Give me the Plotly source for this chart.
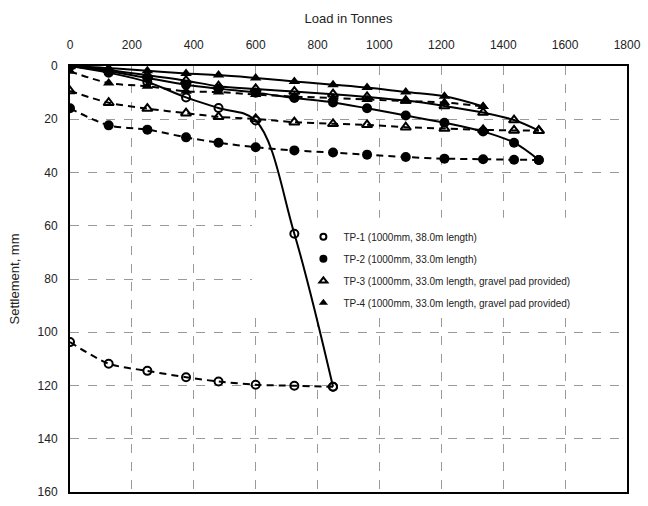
import plotly.graph_objects as go

# Load values (tonnes) at each test stage
loads = [0, 125, 250, 375, 480, 600, 725, 850, 960, 1085, 1210, 1335, 1435, 1515]

# TP-1 (1000mm, 38.0m length) - loaded to 850 t
tp1_load = loads[:8]
tp1_loading = [0, 2.5, 6.0, 11.8, 15.8, 20.5, 63.0, 120.5]
tp1_unloading = [103.7, 111.8, 114.5, 116.9, 118.5, 119.7, 120.1, 120.5]

# TP-2 (1000mm, 33.0m length) - loaded to 1515 t
tp2_load = loads
tp2_loading = [0, 2.0, 4.5, 7.0, 8.5, 10.0, 12.0, 13.7, 15.9, 18.6, 21.3, 24.6, 28.8, 35.3]
tp2_unloading = [15.9, 22.3, 23.9, 26.8, 28.8, 30.5, 31.7, 32.5, 33.3, 34.2, 34.8, 35.0, 35.2, 35.3]

# TP-3 (1000mm, 33.0m length, gravel pad provided) - loaded to 1515 t
tp3_load = loads
tp3_loading = [0, 1.5, 3.5, 5.5, 7.6, 8.6, 9.6, 10.6, 11.6, 13.0, 15.0, 17.5, 20.3, 24.3]
tp3_unloading = [9.4, 13.8, 16.0, 17.7, 19.1, 19.9, 21.1, 21.7, 22.1, 23.0, 23.5, 24.0, 24.2, 24.3]

# TP-4 (1000mm, 33.0m length, gravel pad provided) - loaded to 1335 t
tp4_load = loads[:12]
tp4_loading = [0, 0.8, 1.8, 2.8, 3.4, 4.5, 5.8, 7.0, 8.1, 9.8, 11.4, 15.2]
tp4_unloading = [2.0, 6.4, 7.6, 9.5, 9.8, 10.7, 11.5, 12.0, 12.6, 13.2, 13.7, 15.2]

names = [
    "TP-1 (1000mm, 38.0m length)",
    "TP-2 (1000mm, 33.0m length)",
    "TP-3 (1000mm, 33.0m length, gravel pad provided)",
    "TP-4 (1000mm, 33.0m length, gravel pad provided)",
]

series = [
    (tp1_load, tp1_loading, tp1_unloading, dict(symbol="circle-open", size=8, color="black", line=dict(width=2, color="black"))),
    (tp2_load, tp2_loading, tp2_unloading, dict(symbol="circle", size=10, color="black")),
    (tp3_load, tp3_loading, tp3_unloading, dict(symbol="triangle-up-open", size=9, color="black", line=dict(width=2, color="black"))),
    (tp4_load, tp4_loading, tp4_unloading, dict(symbol="triangle-up", size=10, color="black")),
]

fig = go.Figure()

for (xs, ld, ul, mk) in series:
    fig.add_trace(go.Scatter(
        x=xs, y=ul, mode="lines+markers", showlegend=False,
        line=dict(color="black", width=2, dash="7px,5px", shape="spline", smoothing=0.8),
        marker=mk, hoverinfo="skip"))
for (xs, ld, ul, mk) in series:
    fig.add_trace(go.Scatter(
        x=xs, y=ld, mode="lines+markers", showlegend=False,
        line=dict(color="black", width=2, shape="spline", smoothing=1.0),
        marker=mk, hoverinfo="skip"))

for i, ((xs, ld, ul, mk), nm) in enumerate(zip(series, names)):
    m = dict(symbol=mk["symbol"], size=mk["size"] - 2, color="black",
             line=dict(width=2 if "open" in mk["symbol"] else 0, color="black"))
    fig.add_trace(go.Scatter(x=[None], y=[None], mode="markers", name=nm,
                             marker=m, legendgroup=f"g{i}", showlegend=True))

# white panel behind legend (hides gridlines but not the curves)
fig.add_shape(type="rect", xref="x", yref="y", x0=588, x1=1800, y0=57, y1=92.5,
              fillcolor="white", line=dict(width=0), layer="between")

grid = dict(showgrid=True, gridcolor="#9a9a9a", gridwidth=1, griddash="dash")
fig.update_xaxes(
    range=[0, 1800], side="top", tickmode="array",
    tickvals=[0, 200, 400, 600, 800, 1000, 1200, 1400, 1600, 1800],
    showline=True, linecolor="black", linewidth=2, mirror=True,
    zeroline=False, ticks="", ticklabelstandoff=10,
    tickfont=dict(size=12, color="#222"),
    title=dict(text="Load in Tonnes", font=dict(size=13, color="#222"), standoff=12),
    **grid)
fig.update_yaxes(
    range=[160, 0], tickmode="array", tickvals=[0, 20, 40, 60, 80, 100, 120, 140, 160],
    showline=True, linecolor="black", linewidth=2, mirror=True,
    zeroline=False, ticks="", ticklabelstandoff=8,
    tickfont=dict(size=12, color="#222"),
    title=dict(text="Settlement, mm", font=dict(size=13, color="#222"), standoff=15),
    **grid)

fig.update_layout(
    width=648, height=506,
    margin=dict(l=70, r=16, t=66, b=7),
    paper_bgcolor="white", plot_bgcolor="white",
    font=dict(family="Liberation Sans, Arial, sans-serif", color="#222"),
    legend=dict(x=0.419, y=0.633, xanchor="left", yanchor="top",
                bgcolor="rgba(0,0,0,0)", font=dict(size=10, color="#222"),
                itemwidth=30, tracegroupgap=3, traceorder="grouped"),
)

fig.write_html("out.html")
